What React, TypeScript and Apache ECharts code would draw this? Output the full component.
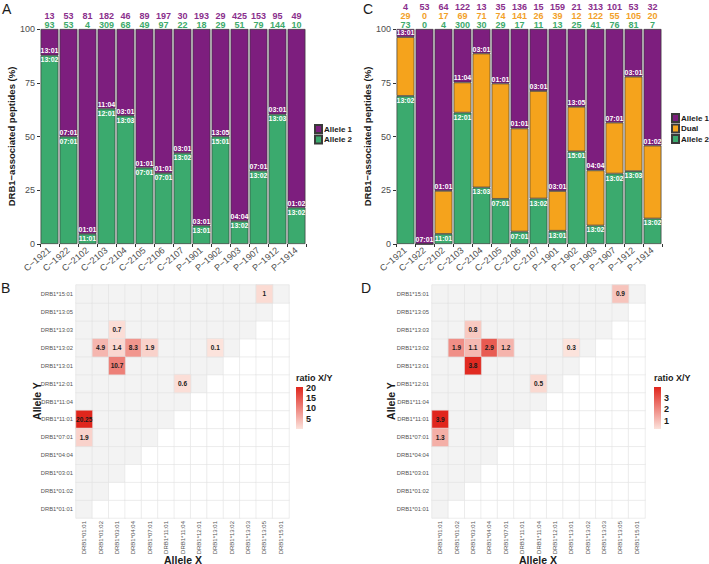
import React, { useEffect, useRef } from "react";
import * as echarts from "echarts";

const samples = ["C−1921", "C−1922", "C−2102", "C−2103", "C−2104", "C−2105", "C−2106", "C−2107", "P−1901", "P−1902", "P−1903", "P−1907", "P−1912", "P−1914"];

const aAllele1Counts = [13, 53, 81, 182, 46, 89, 197, 30, 193, 29, 425, 153, 95, 49];
const aAllele2Counts = [93, 53, 4, 309, 68, 49, 97, 22, 18, 29, 51, 79, 144, 10];

const allele1Names = ["13:01", "07:01", "01:01", "11:04", "03:01", "01:01", "01:01", "03:01", "03:01", "13:05", "04:04", "07:01", "03:01", "01:02"];
const allele2Names = ["13:02", "07:01", "11:01", "12:01", "13:03", "07:01", "07:01", "13:02", "13:01", "15:01", "13:02", "13:02", "13:03", "13:02"];

const cAllele1Counts = [4, 53, 64, 122, 13, 35, 136, 15, 159, 21, 313, 101, 53, 32];
const cDualCounts = [29, 0, 17, 69, 71, 74, 141, 26, 39, 12, 122, 55, 105, 20];
const cAllele2Counts = [73, 0, 4, 300, 30, 29, 17, 11, 13, 25, 41, 76, 81, 7];

const yTicks = [0, 25, 50, 75, 100];

const alleles = ["DRB1*01:01", "DRB1*01:02", "DRB1*03:01", "DRB1*04:04", "DRB1*07:01", "DRB1*11:01", "DRB1*11:04", "DRB1*12:01", "DRB1*13:01", "DRB1*13:02", "DRB1*13:03", "DRB1*13:05", "DRB1*15:01"];

// [Allele X, Allele Y, ratio X/Y]
const ratioB: [string, string, number][] = [
  ["DRB1*01:01", "DRB1*11:01", 20.25],
  ["DRB1*01:01", "DRB1*07:01", 1.9],
  ["DRB1*03:01", "DRB1*13:03", 0.7],
  ["DRB1*01:02", "DRB1*13:02", 4.9],
  ["DRB1*03:01", "DRB1*13:02", 1.4],
  ["DRB1*04:04", "DRB1*13:02", 8.3],
  ["DRB1*07:01", "DRB1*13:02", 1.9],
  ["DRB1*13:01", "DRB1*13:02", 0.1],
  ["DRB1*03:01", "DRB1*13:01", 10.7],
  ["DRB1*11:04", "DRB1*12:01", 0.6],
  ["DRB1*13:05", "DRB1*15:01", 1],
];
const ratioD: [string, string, number][] = [
  ["DRB1*01:01", "DRB1*11:01", 3.9],
  ["DRB1*01:01", "DRB1*07:01", 1.3],
  ["DRB1*03:01", "DRB1*13:03", 0.8],
  ["DRB1*01:02", "DRB1*13:02", 1.9],
  ["DRB1*03:01", "DRB1*13:02", 1.1],
  ["DRB1*04:04", "DRB1*13:02", 2.9],
  ["DRB1*07:01", "DRB1*13:02", 1.2],
  ["DRB1*13:01", "DRB1*13:02", 0.3],
  ["DRB1*03:01", "DRB1*13:01", 3.8],
  ["DRB1*11:04", "DRB1*12:01", 0.5],
  ["DRB1*13:05", "DRB1*15:01", 0.9],
];
const colorbarTicksB = [20, 15, 10, 5];
const colorbarTicksD = [3, 2, 1];

const PURPLE = "#7D1E7E";
const GREEN = "#3BAA6E";
const ORANGE = "#F5A31C";
const LOW = "#FCE3DC";
const HIGH = "#E0261D";
const FONT = "Liberation Sans, Arial, sans-serif";

const pct = (v: number, tot: number) => (tot > 0 ? (v / tot) * 100 : 0);

export default function App() {
  const ref = useRef<HTMLDivElement>(null);
  useEffect(() => {
    document.body.style.margin = "0";
    const chart = echarts.init(ref.current!, undefined, { renderer: "svg" });

    const aTot = aAllele1Counts.map((v, i) => v + aAllele2Counts[i]);
    const cTot = cAllele1Counts.map((v, i) => v + cDualCounts[i] + cAllele2Counts[i]);

    const barLabel = (names: string[], pos: string) => ({
      show: true,
      position: pos,
      distance: 1,
      color: "#fff",
      fontSize: 7,
      fontWeight: "bold",
      formatter: (p: any) => names[p.dataIndex],
    });
    const mkData = (vals: number[], tot: number[], showLabel: boolean) =>
      vals.map((v, i) => ({ value: pct(v, tot[i]), label: { show: showLabel && v > 0 } }));

    const barItem = (color: string) => ({ color, borderColor: "#3a3a3a", borderWidth: 0.7 });

    const bgData = (): number[][] => {
      const out: number[][] = [];
      for (let c = 0; c < alleles.length; c++) for (let r = 0; r < alleles.length; r++) out.push([c, r, c <= r ? 1 : 0]);
      return out;
    };
    const valData = (arr: [string, string, number][]) => arr.map(([x, y, v]) => [alleles.indexOf(x), alleles.indexOf(y), v]);

    const grids = [
      { left: 40, top: 29, width: 266, height: 215 },
      { left: 396, top: 29, width: 266, height: 215 },
      { left: 76, top: 285, width: 213, height: 233 },
      { left: 432, top: 285, width: 213, height: 233 },
    ];

    const bottomX = (gi: number) => ({
      type: "category",
      gridIndex: gi,
      data: samples,
      axisLine: { show: false },
      axisTick: { show: true, length: 3, lineStyle: { color: "#333" } },
      axisLabel: { rotate: 40, fontSize: 9, color: "#4D4D4D", margin: 5, interval: 0 },
    });
    const richBase = { fontSize: 9, fontWeight: "bold", lineHeight: 9, fontFamily: FONT };
    const topX = (gi: number, fmt: (v: any, i: number) => string) => ({
      type: "category",
      gridIndex: gi,
      position: "top",
      data: samples,
      axisLine: { show: false },
      axisTick: { show: false },
      axisLabel: {
        interval: 0,
        margin: 0,
        lineHeight: 9,
        formatter: fmt,
        rich: {
          p: { ...richBase, color: "#8A2E8C" },
          o: { ...richBase, color: "#F2A128" },
          g: { ...richBase, color: "#3DAA6B" },
        },
      },
    });
    const barY = (gi: number) => ({
      type: "value",
      gridIndex: gi,
      min: yTicks[0],
      max: yTicks[yTicks.length - 1],
      interval: yTicks[1] - yTicks[0],
      splitLine: { show: false },
      axisLine: { show: false },
      axisTick: { show: true, length: 3, lineStyle: { color: "#333" } },
      axisLabel: { fontSize: 9, color: "#4D4D4D", margin: 5 },
      name: "DRB1−associated peptides (%)",
      nameLocation: "middle",
      nameGap: 24,
      nameMoveOverlap: false,
      nameTextStyle: { fontSize: 9.5, fontWeight: "bold", color: "#1a1a1a" },
    });
    const heatX = (gi: number) => ({
      type: "category",
      gridIndex: gi,
      data: alleles,
      axisLine: { show: false },
      axisTick: { show: false },
      splitArea: { show: false },
      axisLabel: { rotate: 90, fontSize: 6, color: "#555", margin: 3, interval: 0 },
    });
    const heatY = (gi: number) => ({
      type: "category",
      gridIndex: gi,
      data: alleles,
      axisLine: { show: false },
      axisTick: { show: false },
      splitArea: { show: false },
      axisLabel: { fontSize: 5.8, color: "#555", margin: 3, interval: 0 },
    });

    const colorbar = (x: number, ticks: number[], min: number, max: number) => {
      const top = 387, h = 42, w = 7;
      const els: any[] = [
        { type: "text", left: x, top: top - 14, style: { text: "ratio X/Y", fontSize: 9, fontWeight: "bold", fill: "#1a1a1a", fontFamily: FONT } },
        {
          type: "rect",
          shape: { x, y: top, width: w, height: h },
          style: {
            fill: { type: "linear", x: 0, y: 0, x2: 0, y2: 1, colorStops: [{ offset: 0, color: HIGH }, { offset: 1, color: LOW }] },
          },
        },
      ];
      ticks.forEach((t) => {
        const y = top + ((max - t) / (max - min)) * h;
        els.push({ type: "text", x: x + w + 3, y, style: { text: String(t), fontSize: 9, fontWeight: "bold", fill: "#1a1a1a", verticalAlign: "middle", fontFamily: FONT } });
      });
      return els;
    };

    const axisTitle = (text: string, x: number, y: number, rotate: boolean) => ({
      type: "text",
      x,
      y,
      rotation: rotate ? Math.PI / 2 : 0,
      style: { text, fontSize: 10.5, fontWeight: "bold", fill: "#1a1a1a", align: "center", verticalAlign: "middle", fontFamily: FONT },
    });

    const heatLabel = { show: true, fontSize: 6.5, fontWeight: "bold", color: "#1a1a1a", formatter: (p: any) => String(p.value[2]) };

    const legendBase = {
      orient: "vertical",
      padding: 0,
      itemWidth: 7,
      itemHeight: 8,
      itemGap: 0.5,
      icon: "rect",
      selectedMode: false,
      textStyle: { fontSize: 8, fontWeight: "bold", color: "#1a1a1a", padding: [0, 0, 0, -3] },
    };

    chart.setOption({
      animation: false,
      textStyle: { fontFamily: FONT },
      grid: grids,
      xAxis: [
        bottomX(0),
        topX(0, (_v, i) => `{p|${aAllele1Counts[i]}}\n{g|${aAllele2Counts[i]}}`),
        bottomX(1),
        topX(1, (_v, i) => `{p|${cAllele1Counts[i]}}\n{o|${cDualCounts[i]}}\n{g|${cAllele2Counts[i]}}`),
        heatX(2),
        heatX(3),
      ],
      yAxis: [barY(0), barY(1), heatY(2), heatY(3)],
      legend: [
        { ...legendBase, data: ["Allele 1", "Allele 2"], left: 314, top: 124 },
        { ...legendBase, data: ["Allele 1", "Dual", "Allele 2"], left: 671, top: 113 },
      ],
      visualMap: [
        { type: "piecewise", show: false, seriesIndex: [5, 7], dimension: 2, pieces: [{ value: 1, color: "#F3F3F3" }, { value: 0, color: "#FFFFFF" }] },
        { type: "continuous", show: false, seriesIndex: 6, dimension: 2, min: 0.1, max: 20.25, inRange: { color: [LOW, HIGH] } },
        { type: "continuous", show: false, seriesIndex: 8, dimension: 2, min: 0.3, max: 3.9, inRange: { color: [LOW, HIGH] } },
      ],
      series: [
        { type: "bar", name: "Allele 2", xAxisIndex: 0, yAxisIndex: 0, stack: "a", barCategoryGap: "6%", itemStyle: barItem(GREEN), label: barLabel(allele2Names, "insideTop"), data: mkData(aAllele2Counts, aTot, true) },
        { type: "bar", name: "Allele 1", xAxisIndex: 0, yAxisIndex: 0, stack: "a", barCategoryGap: "6%", itemStyle: barItem(PURPLE), label: barLabel(allele1Names, "insideBottom"), data: mkData(aAllele1Counts, aTot, true) },
        { type: "bar", name: "Allele 2", xAxisIndex: 2, yAxisIndex: 1, stack: "c", barCategoryGap: "6%", itemStyle: barItem(GREEN), label: barLabel(allele2Names, "insideTop"), data: mkData(cAllele2Counts, cTot, true) },
        { type: "bar", name: "Dual", xAxisIndex: 2, yAxisIndex: 1, stack: "c", barCategoryGap: "6%", itemStyle: barItem(ORANGE), label: { show: false }, data: mkData(cDualCounts, cTot, false) },
        { type: "bar", name: "Allele 1", xAxisIndex: 2, yAxisIndex: 1, stack: "c", barCategoryGap: "6%", itemStyle: barItem(PURPLE), label: barLabel(allele1Names, "insideBottom"), data: mkData(cAllele1Counts, cTot, true) },
        { type: "heatmap", xAxisIndex: 4, yAxisIndex: 2, data: bgData(), itemStyle: { borderColor: "#E2E2E2", borderWidth: 0.6 }, emphasis: { disabled: true } },
        { type: "heatmap", xAxisIndex: 4, yAxisIndex: 2, data: valData(ratioB), itemStyle: { borderColor: "#E2E2E2", borderWidth: 0.6 }, label: heatLabel, emphasis: { disabled: true } },
        { type: "heatmap", xAxisIndex: 5, yAxisIndex: 3, data: bgData(), itemStyle: { borderColor: "#E2E2E2", borderWidth: 0.6 }, emphasis: { disabled: true } },
        { type: "heatmap", xAxisIndex: 5, yAxisIndex: 3, data: valData(ratioD), itemStyle: { borderColor: "#E2E2E2", borderWidth: 0.6 }, label: heatLabel, emphasis: { disabled: true } },
      ],
      graphic: [
        { type: "text", left: 2, top: 2, style: { text: "A", fontSize: 14, fill: "#1a1a1a", fontFamily: FONT } },
        { type: "text", left: 363, top: 2, style: { text: "C", fontSize: 14, fill: "#1a1a1a", fontFamily: FONT } },
        { type: "text", left: 1, top: 281, style: { text: "B", fontSize: 14, fill: "#1a1a1a", fontFamily: FONT } },
        { type: "text", left: 361, top: 281, style: { text: "D", fontSize: 14, fill: "#1a1a1a", fontFamily: FONT } },
        axisTitle("Allele Y", 37, 401, true),
        axisTitle("Allele Y", 391, 401, true),
        axisTitle("Allele X", 183, 559.5, false),
        axisTitle("Allele X", 538, 559.5, false),
        ...colorbar(296, colorbarTicksB, 0.1, 20.25),
        ...colorbar(654, colorbarTicksD, 0.3, 3.9),
      ],
    });
    return () => chart.dispose();
  }, []);
  return <div ref={ref} style={{ width: 709, height: 564 }} />;
}
